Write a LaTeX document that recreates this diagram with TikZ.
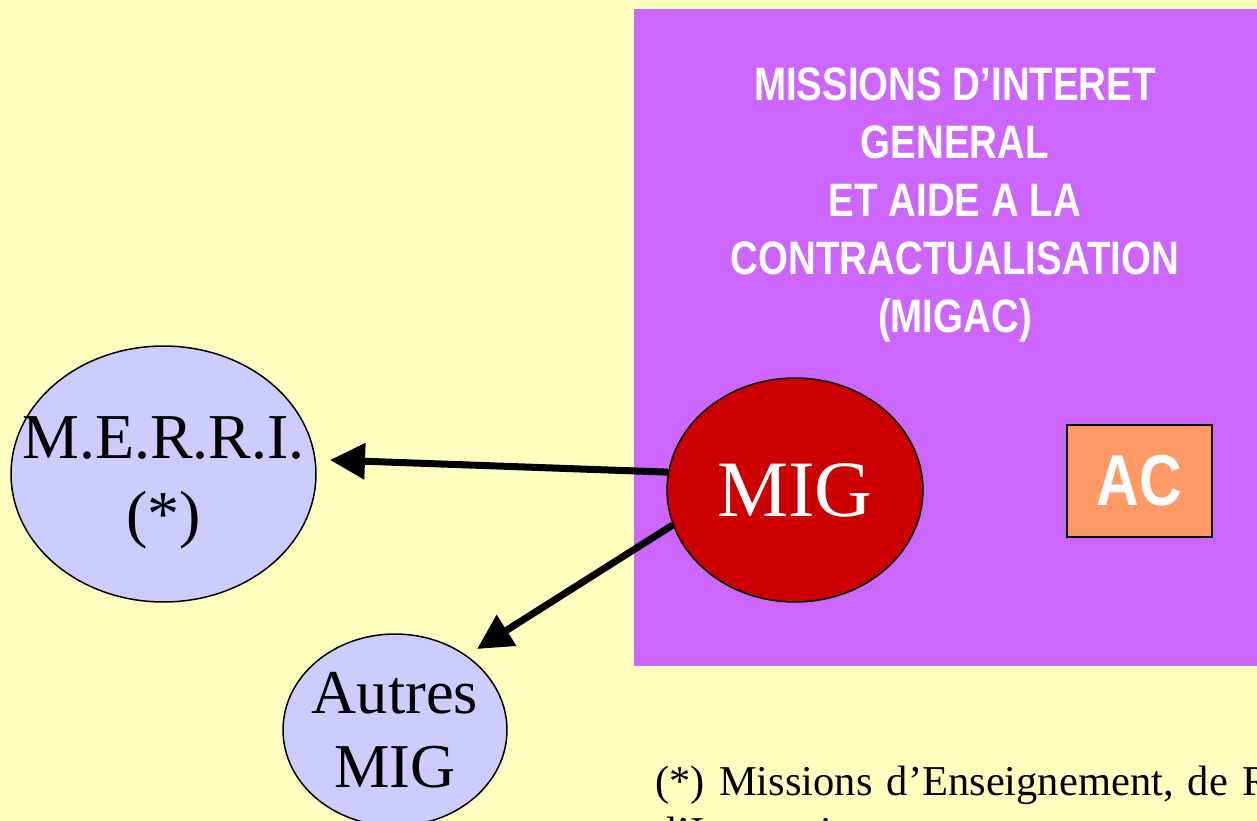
\documentclass[tikz,border=0pt]{standalone}
\usepackage{fontspec}
\setmainfont{Liberation Serif}
\newfontfamily\narrowsans[FakeStretch=0.82]{Liberation Sans}
\usetikzlibrary{shapes.geometric,arrows.meta}

\definecolor{bgyellow}{HTML}{FFFFC0}
\definecolor{migacpurple}{HTML}{CC66FF}
\definecolor{migred}{HTML}{CC0000}
\definecolor{lavender}{HTML}{CCCCFF}
\definecolor{acorange}{HTML}{FF9966}

\tikzset{
  bubble/.style={draw, ellipse, inner sep=0pt, line width=0.03cm},
  bigarrow/.style={-{Triangle[length=0.7cm,width=0.7cm]}, line width=0.14cm},
}

\begin{document}
\begin{tikzpicture}[x=0.02cm, y=-0.02cm]
				\useasboundingbox (0,0) rectangle (1257,821);
				\fill[bgyellow] (0,0) rectangle (1257,821);
				\clip (0,0) rectangle (1257,821);

				% MIGAC box
				\fill[migacpurple] (634,9) rectangle (1270,666);
				\node[text=white, align=center, font=\narrowsans\bfseries\fontsize{26.7}{33}\selectfont] (migac) at (955,205) {MISSIONS D’INTERET\\GENERAL\\ET AIDE A LA\\CONTRACTUALISATION\\(MIGAC)};

				% MIG and AC
				\node[bubble, fill=migred, minimum width=5.12cm, minimum height=4.48cm, text=white, font=\fontsize{45.5}{50}\selectfont] (mig) at (795,490) {MIG};
				\node[draw, line width=0.04cm, fill=acorange, minimum width=2.9cm, minimum height=2.24cm, text=white, font=\narrowsans\bfseries\fontsize{41}{46}\selectfont] (ac) at (1139.5,481) {AC};

				% Targets
				\node[bubble, fill=lavender, minimum width=6.1cm, minimum height=5.12cm] (merri) at (163.5,474) {};
				\node[align=center, font=\fontsize{36.4}{43.8}\selectfont] (merrilabel) at (163.5,482.5) {M.E.R.R.I.\\(*)};
				\node[bubble, fill=lavender, minimum width=4.48cm, minimum height=3.84cm] (autres) at (395,730) {};
				\node[align=center, font=\fontsize{35.5}{42}\selectfont] (autreslabel) at (395,730.5) {Autres\\MIG};

				% Arrows
				\coordinate (merritip) at (330,460);
				\coordinate (autrestip) at (477,649);
				\draw[bigarrow] (mig.172) -- (merritip);
				\draw[bigarrow] (mig.196) -- (autrestip);

				% Footnote
				\node[anchor=base west, text width=24cm, align=left, inner sep=0pt, font=\fontsize{24.2}{29.5}\selectfont] (note) at (655,795) {(*) Missions d’Enseignement, de Recherche, de Référence et\\d’Innovation};
\end{tikzpicture}
\end{document}
